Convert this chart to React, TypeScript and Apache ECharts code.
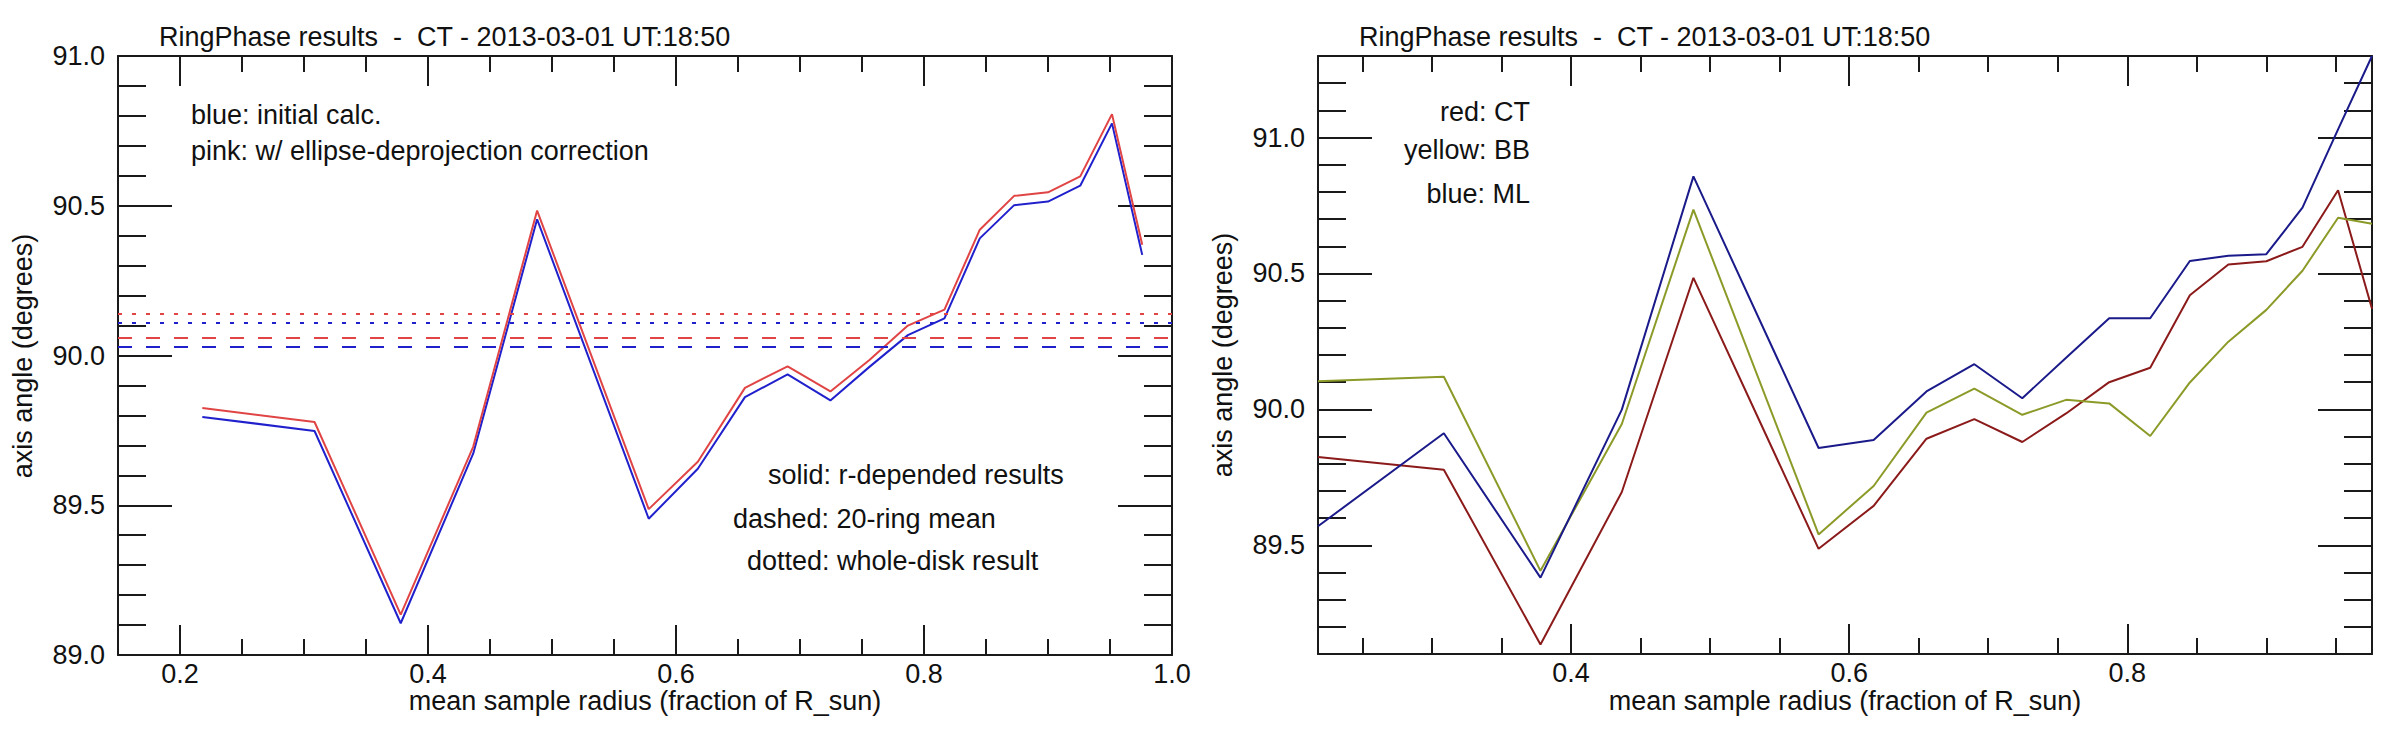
import React, { useEffect, useRef } from "react";
import * as echarts from "echarts";

// ---- data ----
const radius = [0.218, 0.3085, 0.378, 0.4365, 0.488, 0.578, 0.6176, 0.6556, 0.69, 0.7245, 0.756, 0.787, 0.8165, 0.845, 0.8727, 0.9, 0.926, 0.9516, 0.976];
const initialCalc = [89.795, 89.748, 89.106, 89.673, 90.455, 89.455, 89.622, 89.861, 89.937, 89.85, 89.962, 90.068, 90.124, 90.391, 90.502, 90.514, 90.567, 90.775, 90.336];
const correctedCT = [89.825, 89.778, 89.135, 89.696, 90.484, 89.487, 89.645, 89.892, 89.964, 89.88, 89.985, 90.1, 90.153, 90.42, 90.533, 90.545, 90.598, 90.806, 90.37];
const seriesBB = [90.103, 90.12, 89.406, 89.946, 90.735, 89.54, 89.718, 89.988, 90.076, 89.98, 90.035, 90.022, 89.902, 90.099, 90.249, 90.366, 90.51, 90.705, 90.683];
const seriesML = [89.57, 89.912, 89.381, 89.999, 90.857, 89.858, 89.887, 90.066, 90.166, 90.041, 90.19, 90.335, 90.335, 90.546, 90.565, 90.571, 90.742, 91.03, 91.3];
// 20-ring means (dashed) and whole-disk results (dotted): [initial, corrected]
const ringMean = [90.032, 90.061];
const wholeDisk = [90.108, 90.139];
// axis ranges
const leftXRange = [0.15, 1.0];
const leftYRange = [89.0, 91.0];
const rightXRange = [radius[0], radius[radius.length - 1]];
const rightYRange = [89.1, 91.3];

const plotTitle = "RingPhase results  -  CT - 2013-03-01 UT:18:50";
const xTitle = "mean sample radius (fraction of R_sun)";
const yTitle = "axis angle (degrees)";
const leftNotesTop = ["blue: initial calc.", "pink: w/ ellipse-deprojection correction"];
const leftNotesBottom = ["solid: r-depended results", "dashed: 20-ring mean", "dotted: whole-disk result"];
const rightNotes = ["red: CT", "yellow: BB", "blue: ML"];

const FONT_FAMILY = '"Liberation Sans", Arial, Helvetica, sans-serif';
const FS = 27;
const TXT = "#111111";
const AX = "#1a1a1a";

const C_BLUE = "#2020cc";
const C_PINK = "#e04444";
const C_NAVY = "#1a1a8a";
const C_DARKRED = "#8b1a1a";
const C_OLIVE = "#8c9a28";

function isMult(v: number, step: number) {
  const r = v / step;
  return Math.abs(r - Math.round(r)) < 1e-6;
}

function xAxisDef(grid: number, range: number[], pos: "bottom" | "top", labels: boolean) {
  return {
    type: "value",
    gridIndex: grid,
    position: pos,
    min: range[0],
    max: range[1],
    splitNumber: 4,
    axisLine: { show: true, onZero: false, lineStyle: { color: AX, width: 2 } },
    axisTick: { show: true, inside: true, length: 30, lineStyle: { color: AX, width: 2 } },
    minorTick: { show: true, splitNumber: 4, length: 16, lineStyle: { color: AX, width: 2 } },
    splitLine: { show: false },
    axisLabel: {
      show: labels,
      margin: 5,
      color: TXT,
      fontFamily: FONT_FAMILY,
      fontSize: FS,
      formatter: (v: number) => (isMult(v, 0.2) ? v.toFixed(1) : ""),
    },
  };
}

function yAxisDef(grid: number, range: number[], pos: "left" | "right", labels: boolean) {
  return {
    type: "value",
    gridIndex: grid,
    position: pos,
    min: range[0],
    max: range[1],
    splitNumber: 5,
    axisLine: { show: true, onZero: false, lineStyle: { color: AX, width: 2 } },
    axisTick: { show: true, inside: true, length: 54, lineStyle: { color: AX, width: 2 } },
    minorTick: { show: true, splitNumber: 5, length: 28, lineStyle: { color: AX, width: 2 } },
    splitLine: { show: false },
    axisLabel: {
      show: labels,
      margin: 13,
      color: TXT,
      fontFamily: FONT_FAMILY,
      fontSize: FS,
      formatter: (v: number) => (isMult(v, 0.5) ? v.toFixed(1) : ""),
    },
  };
}

function pairs(ys: number[]) {
  return radius.map((x, i) => [x, ys[i]]);
}

function lineSeries(name: string, ys: number[], color: string, xi: number, yi: number, extra: any = {}) {
  return {
    name,
    type: "line",
    xAxisIndex: xi,
    yAxisIndex: yi,
    data: pairs(ys),
    showSymbol: false,
    symbol: "none",
    clip: true,
    lineStyle: { color, width: 2 },
    itemStyle: { color },
    emphasis: { disabled: true },
    z: 3,
    ...extra,
  };
}

function hLines(color: string, dashed: number, dotted: number) {
  return {
    silent: true,
    symbol: ["none", "none"],
    label: { show: false },
    emphasis: { disabled: true },
    data: [
      { yAxis: dashed, lineStyle: { color, width: 2, type: [14, 14] } },
      { yAxis: dotted, lineStyle: { color, width: 2, type: [4, 10] } },
    ],
  };
}

function txt(text: string, x: number, y: number, align: string, extra: any = {}) {
  return {
    type: "text",
    x,
    y,
    silent: true,
    style: {
      text,
      x: 0,
      y: 0,
      fill: TXT,
      font: `${FS}px ${FONT_FAMILY}`,
      align,
      textAlign: align,
      verticalAlign: "middle",
      textVerticalAlign: "middle",
    },
    ...extra,
  };
}

export default function App() {
  const ref = useRef<HTMLDivElement>(null);

  useEffect(() => {
    document.body.style.margin = "0";
    if (!ref.current) return;
    const chart = echarts.init(ref.current, undefined, { renderer: "svg" });

    const option: any = {
      animation: false,
      backgroundColor: "#ffffff",
      textStyle: { fontFamily: FONT_FAMILY },
      grid: [
        { left: 118, top: 56, width: 1054, height: 599, containLabel: false, show: false },
        { left: 1318, top: 56, width: 1054, height: 598, containLabel: false, show: false },
      ],
      xAxis: [
        xAxisDef(0, leftXRange, "bottom", true),
        xAxisDef(0, leftXRange, "top", false),
        xAxisDef(1, rightXRange, "bottom", true),
        xAxisDef(1, rightXRange, "top", false),
      ],
      yAxis: [
        yAxisDef(0, leftYRange, "left", true),
        yAxisDef(0, leftYRange, "right", false),
        yAxisDef(1, rightYRange, "left", true),
        yAxisDef(1, rightYRange, "right", false),
      ],
      series: [
        lineSeries("initial calc.", initialCalc, C_BLUE, 0, 0, { markLine: hLines(C_BLUE, ringMean[0], wholeDisk[0]) }),
        lineSeries("ellipse-deprojection correction", correctedCT, C_PINK, 0, 0, { markLine: hLines(C_PINK, ringMean[1], wholeDisk[1]) }),
        lineSeries("CT", correctedCT, C_DARKRED, 2, 2),
        lineSeries("BB", seriesBB, C_OLIVE, 2, 2),
        lineSeries("ML", seriesML, C_NAVY, 2, 2),
      ],
      graphic: [
        txt(plotTitle, 159, 37, "left"),
        txt(plotTitle, 1359, 37, "left"),
        txt(xTitle, 645, 701, "center"),
        txt(xTitle, 1845, 701, "center"),
        txt(yTitle, 23, 356, "center", { rotation: Math.PI / 2 }),
        txt(yTitle, 1223, 355, "center", { rotation: Math.PI / 2 }),
        txt(leftNotesTop[0], 191, 115, "left"),
        txt(leftNotesTop[1], 191, 151, "left"),
        txt(leftNotesBottom[0], 768, 475, "left"),
        txt(leftNotesBottom[1], 733, 519, "left"),
        txt(leftNotesBottom[2], 747, 561, "left"),
        txt(rightNotes[0], 1530, 112, "right"),
        txt(rightNotes[1], 1530, 150, "right"),
        txt(rightNotes[2], 1530, 194, "right"),
      ],
    };

    chart.setOption(option);
    return () => {
      chart.dispose();
    };
  }, []);

  return <div ref={ref} style={{ width: 2400, height: 734 }} />;
}
